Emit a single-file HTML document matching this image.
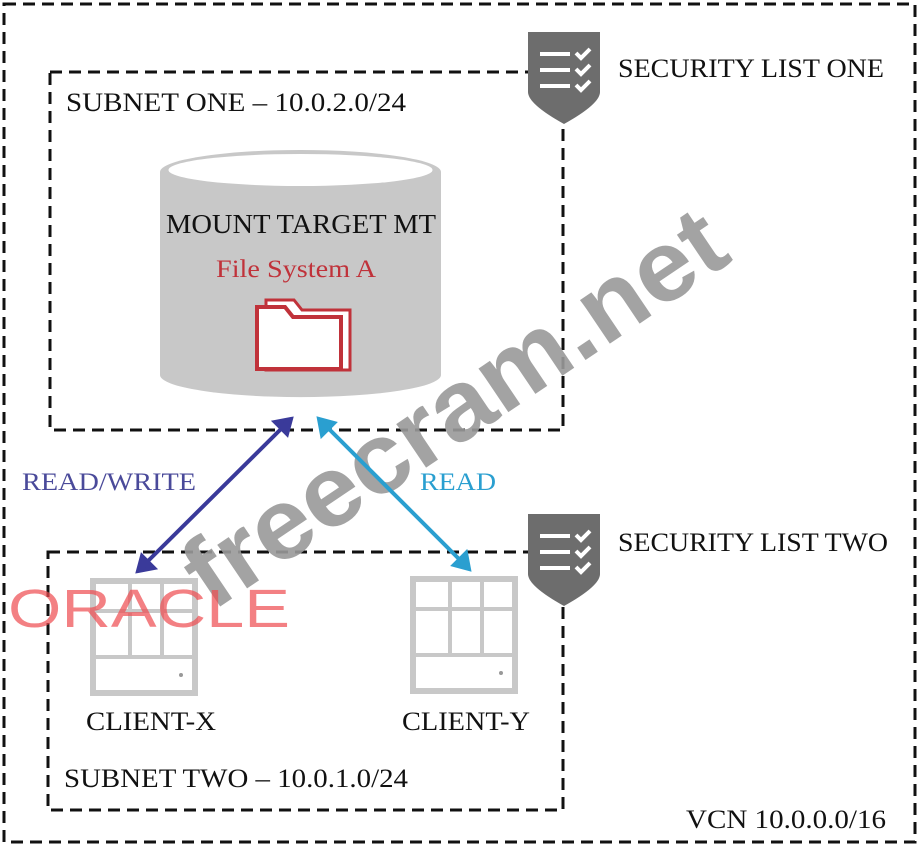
<!DOCTYPE html>
<html><head><style>html,body{margin:0;padding:0;background:#fff}svg{display:block}</style></head>
<body>
<svg width="923" height="847" viewBox="0 0 923 847" xmlns="http://www.w3.org/2000/svg" font-family="Liberation Serif, serif">
<defs>
<g id="shield">
<path d="M0,0 H72 V60 Q72,72 36,92 Q0,72 0,60 Z" fill="#6d6d6d"/>
<g stroke="#fff" stroke-width="4" fill="none">
<line x1="12" y1="22" x2="42" y2="22"/><line x1="12" y1="38" x2="42" y2="38"/><line x1="12" y1="54" x2="42" y2="54"/>
<path d="M48,21 l5,5 l9,-9"/><path d="M48,37 l5,5 l9,-9"/><path d="M48,53 l5,5 l9,-9"/>
</g></g>
<g id="server" fill="none" stroke="#c8c8c8">
<rect x="3" y="3" width="102" height="112" stroke-width="6"/>
<line x1="3" y1="33" x2="105" y2="33" stroke-width="4"/>
<line x1="3" y1="79" x2="105" y2="79" stroke-width="4"/>
<line x1="40" y1="3" x2="40" y2="79" stroke-width="4"/>
<line x1="72" y1="3" x2="72" y2="79" stroke-width="4"/>
<circle cx="91" cy="97" r="2" fill="#999" stroke="none"/>
</g>
</defs>
<g fill="none" stroke="#111" stroke-width="3" stroke-dasharray="12,7">
<rect x="4" y="4" width="911" height="838"/>
<rect x="50" y="72" width="513" height="358"/>
<rect x="48" y="552" width="515" height="258"/>
</g>
<use href="#shield" x="528" y="32"/>
<use href="#shield" x="528" y="514"/>
<g font-size="26" fill="#111">
<text x="618" y="77" textLength="266" lengthAdjust="spacingAndGlyphs">SECURITY LIST ONE</text>
<text x="618" y="551" textLength="270" lengthAdjust="spacingAndGlyphs">SECURITY LIST TWO</text>
<text x="66" y="111" textLength="340" lengthAdjust="spacingAndGlyphs">SUBNET ONE – 10.0.2.0/24</text>
<text x="64" y="787" textLength="344" lengthAdjust="spacingAndGlyphs">SUBNET TWO – 10.0.1.0/24</text>
<text x="686" y="828" textLength="200" lengthAdjust="spacingAndGlyphs">VCN 10.0.0.0/16</text>
<text x="86" y="730" textLength="130" lengthAdjust="spacingAndGlyphs">CLIENT-X</text>
<text x="402" y="730" textLength="128" lengthAdjust="spacingAndGlyphs">CLIENT-Y</text>
</g>
<path d="M160,172 V375 A140,22 0 0 0 441,375 V172 Z" fill="#c8c8c8"/>
<ellipse cx="300.5" cy="172" rx="140.5" ry="22" fill="#c8c8c8"/>
<ellipse cx="300.5" cy="170" rx="132" ry="16" fill="#fff"/>
<text x="166" y="233" font-size="27" fill="#111" textLength="270" lengthAdjust="spacingAndGlyphs">MOUNT TARGET MT</text>
<text x="216" y="277" font-size="25" fill="#c0323a" textLength="160" lengthAdjust="spacingAndGlyphs">File System A</text>
<g fill="#fff" stroke="#c0323a" stroke-width="3">
<path d="M266,300 h28 l8,10 h48 v60 h-84 z"/>
<path d="M257,307 h28 l8,10 h48 v52 h-84 z" stroke-width="4"/>
</g>
<use href="#server" x="90" y="578"/>
<use href="#server" x="410" y="576"/>
<text x="0" y="0" font-family="Liberation Sans, sans-serif" font-size="100" font-weight="bold" fill="#9a9a9a" opacity="0.9" transform="translate(212,612) rotate(-34)" textLength="630" lengthAdjust="spacingAndGlyphs">freecram.net</text>
<text x="8" y="627" font-family="Liberation Sans, sans-serif" font-size="54" fill="#ef4b50" opacity="0.7" textLength="282" lengthAdjust="spacingAndGlyphs">ORACLE</text>
<g stroke="#3a3a9a" stroke-width="4" fill="#3a3a9a">
<line x1="282" y1="428" x2="147" y2="562"/>
<path d="M291,419 l-16,3 l12,12 z"/><path d="M138,571 l16,-3 l-12,-12 z"/>
</g>
<g stroke="#2a9fd0" stroke-width="4" fill="#2a9fd0">
<line x1="328" y1="428" x2="460" y2="560"/>
<path d="M319,419 l3,16 l12,-12 z"/><path d="M469,569 l-3,-16 l-12,12 z"/>
</g>
<text x="22" y="490" font-size="25" fill="#4a4a9a" textLength="174" lengthAdjust="spacingAndGlyphs">READ/WRITE</text>
<text x="420" y="490" font-size="25" fill="#2a9fd0" textLength="76" lengthAdjust="spacingAndGlyphs">READ</text>
</svg>
</body></html>
